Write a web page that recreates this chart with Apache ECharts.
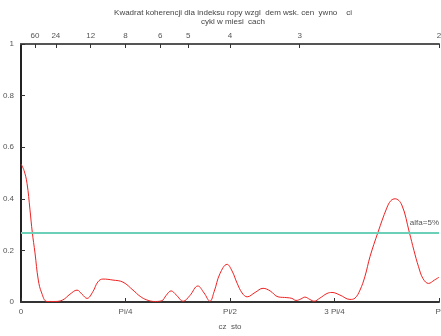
<!DOCTYPE html>
<html>
<head>
<meta charset="utf-8">
<script src="https://cdn.jsdelivr.net/npm/echarts@6/dist/echarts.min.js"></script>
<style>html,body{margin:0;padding:0;background:#fff}#c{width:441px;height:336px}</style>
</head>
<body>
<div id="c"></div>
<script>
// frequency as a multiple of Pi
const freqOverPi = [0,0.0072,0.0144,0.0215,0.027,0.0335,0.0414,0.0495,0.062,0.081,0.10,0.117,0.134,0.146,0.158,0.172,0.184,0.196,0.22,0.244,0.268,0.285,0.301,0.32,0.337,0.347,0.359,0.371,0.388,0.404,0.423,0.438,0.452,0.462,0.476,0.493,0.505,0.517,0.529,0.541,0.560,0.579,0.596,0.615,0.636,0.648,0.658,0.670,0.679,0.691,0.701,0.715,0.732,0.744,0.763,0.787,0.799,0.811,0.823,0.835,0.854,0.875,0.885,0.895,0.911,0.929,0.940,0.951,0.962,0.975,0.989,1.0];
const coherence = [0.535,0.51,0.46,0.357,0.27,0.19,0.085,0.035,0.002,0.002,0.008,0.03,0.046,0.03,0.014,0.04,0.078,0.089,0.085,0.077,0.046,0.022,0.008,0.002,0.005,0.025,0.043,0.028,0.003,0.025,0.062,0.035,0.003,0.04,0.11,0.146,0.12,0.073,0.035,0.02,0.037,0.053,0.043,0.02,0.017,0.014,0.006,0.012,0.019,0.01,0.003,0.015,0.033,0.037,0.027,0.01,0.015,0.046,0.1,0.176,0.27,0.364,0.393,0.4,0.376,0.27,0.2,0.137,0.09,0.072,0.085,0.096];
const alphaLevel = 0.27;
const periodTicks = [60,24,12,8,6,5,4,3,2];
const bottomTickLabels = ['0','Pi/4','Pi/2','3 Pi/4','Pi'];
const titleLines = ['Kwadrat koherencji dla indeksu ropy wzgl  dem wsk. cen  ywno    ci','cykl w miesi  cach'];
const xName = 'cz  sto';

const PI = Math.PI;
const data = freqOverPi.map((f,i)=>[f*PI, coherence[i]]);
const FONT = 'Liberation Sans';
const txt = {color:'#555', fontSize:8, fontFamily:FONT};
const chart = echarts.init(document.getElementById('c'), null, {renderer:'canvas'});
chart.setOption({
  animation:false,
  title:{text:titleLines.join('\n'), left:233, textAlign:'center', top:8, padding:0,
    textStyle:{color:'#444', fontSize:8, fontWeight:'normal', fontFamily:FONT, lineHeight:9}},
  grid:{left:21, right:2, top:44, bottom:34, outerBoundsMode:'none', containLabel:false},
  xAxis:[{
    type:'value', min:0, max:PI, interval:PI/4, position:'bottom',
    name:xName, nameLocation:'middle', nameGap:21, nameTextStyle:txt,
    axisLine:{lineStyle:{color:'#333', width:2}},
    axisTick:{inside:true, length:4, lineStyle:{color:'#333'}},
    axisLabel:Object.assign({margin:6, formatter:(v)=>bottomTickLabels[Math.round(v/(PI/4))]}, txt),
    splitLine:{show:false}
  },{
    type:'value', min:0, max:PI, position:'top',
    axisLine:{show:true, lineStyle:{color:'#555', width:2}},
    axisTick:{inside:true, length:4, customValues:periodTicks.map(p=>2*PI/p), lineStyle:{color:'#333'}},
    axisLabel:Object.assign({margin:4, customValues:periodTicks.map(p=>2*PI/p),
      formatter:(v)=>String(Math.round(2*PI/v))}, txt),
    splitLine:{show:false}
  }],
  yAxis:{
    type:'value', min:0, max:1, interval:0.2,
    axisLine:{show:true, lineStyle:{color:'#222', width:2}},
    axisTick:{show:true, inside:true, length:4, lineStyle:{color:'#333'}},
    axisLabel:Object.assign({margin:7, formatter:(v)=>String(+v.toFixed(1))}, txt),
    splitLine:{show:false}
  },
  series:[{
    type:'line', data:data, showSymbol:false, smooth:0.4,
    lineStyle:{color:'#ee2222', width:1},
    markLine:{silent:true, symbol:'none',
      lineStyle:{color:'#6ccfb8', width:2, type:'solid'},
      label:{position:'insideEndTop', formatter:'alfa=5%', color:'#555', fontSize:8, fontFamily:FONT, distance:[0,6]},
      data:[{yAxis:alphaLevel}]}
  }]
});
</script>
</body>
</html>
